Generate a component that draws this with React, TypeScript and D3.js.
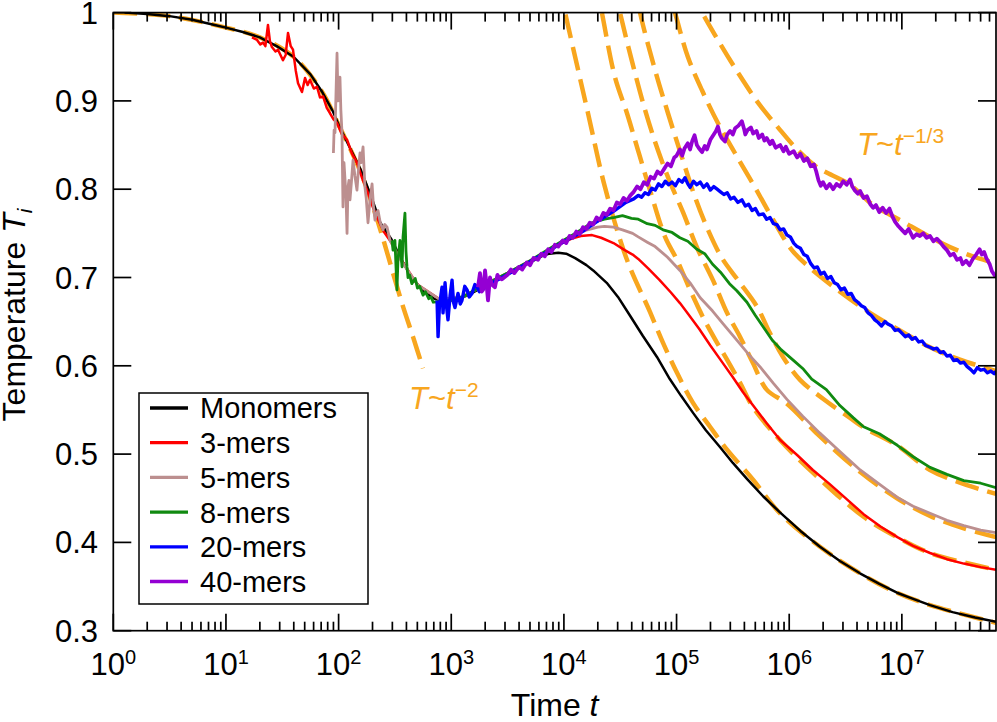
import * as d3 from "d3";

type Pt = [number, number]; // [log10 t, T]

// ---- data ----
const seriesNames = ["Monomers", "3-mers", "5-mers", "8-mers", "20-mers", "40-mers"];
const seriesColors = ["#000000", "#ff0000", "#bc8f8f", "#108a10", "#0000ff", "#9400d3"];
const seriesWidths = [2.5, 2.5, 2.8, 2.8, 3.4, 3.8];

const monomers: Pt[] = [
  [0.1, 1.0], [0.3, 0.9985], [0.5, 0.996], [0.7, 0.992], [0.9, 0.986], [1.0, 0.983], [1.15, 0.978],
  [1.3, 0.972], [1.45, 0.962], [1.6, 0.95], [1.75, 0.93], [1.85, 0.911], [1.95, 0.888], [2.0, 0.873],
  [2.1, 0.847], [2.2, 0.821], [2.3, 0.788], [2.37, 0.762], [2.47, 0.743], [2.55, 0.722], [2.65, 0.7],
  [2.75, 0.685], [2.85, 0.676], [2.95, 0.673], [3.05, 0.675], [3.15, 0.68], [3.25, 0.687], [3.35, 0.694],
  [3.45, 0.7], [3.55, 0.707], [3.7, 0.717], [3.8, 0.724], [3.87, 0.727], [3.95, 0.728], [4.02, 0.727],
  [4.1, 0.722], [4.2, 0.714], [4.26, 0.708], [4.38, 0.694], [4.48, 0.678], [4.586, 0.657], [4.7, 0.634],
  [4.826, 0.61], [4.94, 0.585], [5.04, 0.566], [5.145, 0.547], [5.26, 0.527], [5.385, 0.508], [5.5, 0.49],
  [5.625, 0.472], [5.77, 0.452], [5.918, 0.434], [6.1, 0.413], [6.273, 0.395], [6.45, 0.379], [6.628, 0.365],
  [6.8, 0.353], [6.957, 0.343], [7.1, 0.336], [7.25, 0.329], [7.45, 0.321], [7.65, 0.315], [7.836, 0.31],
];

const mers3: Pt[] = [
  [1.231, 0.972], [1.276, 0.969], [1.305, 0.964], [1.329, 0.966], [1.35, 0.962], [1.373, 0.986], [1.39, 0.968],
  [1.408, 0.961], [1.44, 0.956], [1.462, 0.958], [1.506, 0.946], [1.53, 0.952], [1.551, 0.977], [1.575, 0.962],
  [1.595, 0.958], [1.62, 0.934], [1.64, 0.92], [1.675, 0.91], [1.702, 0.926], [1.725, 0.918], [1.746, 0.924],
  [1.78, 0.914], [1.808, 0.916], [1.835, 0.904], [1.862, 0.905], [1.895, 0.892], [1.924, 0.886], [1.955, 0.879],
  [1.986, 0.875], [2.03, 0.862], [2.075, 0.856], [2.12, 0.84], [2.163, 0.83], [2.21, 0.812], [2.252, 0.799],
  [2.3, 0.781], [2.341, 0.768], [2.4, 0.752], [2.456, 0.742], [2.55, 0.721], [2.7, 0.692], [2.9, 0.675],
  [3.1, 0.678], [3.3, 0.692], [3.5, 0.705], [3.7, 0.719], [3.9, 0.733], [4.0, 0.74], [4.07, 0.744],
  [4.15, 0.747], [4.25, 0.748], [4.33, 0.745], [4.44, 0.739], [4.54, 0.731], [4.61, 0.726], [4.66, 0.721],
  [4.75, 0.71], [4.85, 0.697], [4.95, 0.683], [5.03, 0.671], [5.09, 0.661], [5.2, 0.642], [5.3, 0.623],
  [5.4, 0.605], [5.5, 0.587], [5.59, 0.57], [5.68, 0.555], [5.8, 0.535], [5.92, 0.516], [6.07, 0.499],
  [6.21, 0.482], [6.36, 0.466], [6.51, 0.449], [6.66, 0.432], [6.81, 0.418], [6.96, 0.406], [7.1, 0.396],
  [7.25, 0.388], [7.4, 0.381], [7.55, 0.376], [7.7, 0.372], [7.836, 0.369],
];

const mers5: Pt[] = [
  [1.954, 0.841], [1.96, 0.867], [1.968, 0.864], [1.986, 0.954], [1.995, 0.9], [2.004, 0.912], [2.012, 0.927],
  [2.02, 0.89], [2.03, 0.864], [2.039, 0.78], [2.048, 0.83], [2.057, 0.811], [2.066, 0.79], [2.075, 0.75],
  [2.083, 0.802], [2.092, 0.81], [2.101, 0.788], [2.115, 0.81], [2.128, 0.833], [2.145, 0.815], [2.163, 0.799],
  [2.175, 0.82], [2.19, 0.841], [2.2, 0.83], [2.217, 0.848], [2.234, 0.802], [2.245, 0.79], [2.261, 0.762],
  [2.28, 0.79], [2.297, 0.806], [2.31, 0.78], [2.323, 0.765], [2.335, 0.772], [2.35, 0.776], [2.37, 0.762],
  [2.394, 0.754], [2.41, 0.76], [2.43, 0.757], [2.456, 0.742], [2.55, 0.72], [2.7, 0.692], [2.9, 0.675],
  [3.1, 0.678], [3.3, 0.692], [3.5, 0.705], [3.7, 0.719], [3.9, 0.734], [4.05, 0.746], [4.21, 0.754],
  [4.3, 0.757], [4.36, 0.758], [4.44, 0.757], [4.52, 0.754], [4.61, 0.75], [4.66, 0.746], [4.74, 0.74],
  [4.81, 0.735], [4.92, 0.723], [5.03, 0.708], [5.12, 0.694], [5.21, 0.677], [5.32, 0.662], [5.41, 0.648],
  [5.535, 0.629], [5.64, 0.613], [5.74, 0.599], [5.86, 0.58], [5.98, 0.562], [6.12, 0.543], [6.27, 0.524],
  [6.45, 0.503], [6.63, 0.482], [6.8, 0.466], [6.96, 0.451], [7.1, 0.441], [7.25, 0.433], [7.4, 0.425],
  [7.55, 0.419], [7.7, 0.414], [7.836, 0.411],
];

const mers8: Pt[] = [
  [2.474, 0.742], [2.483, 0.731], [2.5, 0.742], [2.518, 0.686], [2.527, 0.72], [2.545, 0.742], [2.563, 0.712],
  [2.572, 0.746], [2.589, 0.773], [2.598, 0.73], [2.607, 0.712], [2.616, 0.7], [2.63, 0.703], [2.65, 0.693],
  [2.68, 0.699], [2.7, 0.688], [2.72, 0.69], [2.75, 0.68], [2.77, 0.684], [2.8, 0.676], [2.82, 0.678],
  [2.84, 0.672], [2.95, 0.673], [3.1, 0.678], [3.3, 0.692], [3.5, 0.705], [3.7, 0.719], [3.9, 0.735],
  [4.1, 0.75], [4.25, 0.762], [4.36, 0.766], [4.45, 0.768], [4.52, 0.77], [4.6, 0.767], [4.66, 0.766],
  [4.74, 0.761], [4.81, 0.759], [4.88, 0.754], [4.96, 0.751], [5.03, 0.745], [5.1, 0.741], [5.18, 0.732],
  [5.25, 0.727], [5.32, 0.715], [5.39, 0.706], [5.47, 0.693], [5.535, 0.685], [5.625, 0.672], [5.7, 0.657],
  [5.77, 0.644], [5.85, 0.629], [5.93, 0.618], [6.03, 0.607], [6.12, 0.597], [6.2, 0.585], [6.33, 0.573],
  [6.45, 0.555], [6.57, 0.541], [6.66, 0.531], [6.8, 0.523], [6.96, 0.51], [7.1, 0.497], [7.25, 0.485],
  [7.4, 0.477], [7.55, 0.47], [7.7, 0.467], [7.836, 0.462],
];

const mers20: Pt[] = [
  [2.874, 0.674], [2.883, 0.633], [2.895, 0.668], [2.918, 0.689], [2.927, 0.66], [2.945, 0.694], [2.96, 0.665],
  [2.971, 0.652], [2.99, 0.68], [3.007, 0.697], [3.02, 0.672], [3.033, 0.666], [3.06, 0.682], [3.08, 0.67],
  [3.095, 0.674], [3.12, 0.69], [3.14, 0.686], [3.16, 0.678], [3.184, 0.682], [3.21, 0.692], [3.229, 0.689],
  [3.25, 0.684], [3.273, 0.686], [3.35, 0.693], [3.45, 0.7], [3.55, 0.707], [3.7, 0.718], [3.85, 0.729],
  [3.99, 0.74], [4.14, 0.75], [4.29, 0.763], [4.44, 0.775], [4.55, 0.785], [4.62, 0.789], [4.66, 0.793],
  [4.69, 0.791], [4.72, 0.796], [4.75, 0.794], [4.78, 0.801], [4.81, 0.799], [4.84, 0.806], [4.87, 0.803],
  [4.9, 0.809], [4.93, 0.805], [4.96, 0.808], [4.99, 0.804], [5.02, 0.811], [5.05, 0.808], [5.075, 0.813],
  [5.1, 0.806], [5.12, 0.802], [5.15, 0.809], [5.18, 0.805], [5.21, 0.808], [5.24, 0.802], [5.27, 0.806],
  [5.3, 0.799], [5.33, 0.803], [5.36, 0.8], [5.39, 0.797], [5.42, 0.794], [5.45, 0.796], [5.48, 0.789],
  [5.51, 0.791], [5.545, 0.785], [5.58, 0.788], [5.61, 0.781], [5.64, 0.783], [5.67, 0.776], [5.7, 0.778],
  [5.73, 0.771], [5.77, 0.772], [5.8, 0.766], [5.83, 0.768], [5.86, 0.761], [5.89, 0.76], [5.92, 0.754],
  [5.95, 0.755], [5.98, 0.748], [6.01, 0.746], [6.04, 0.739], [6.07, 0.735], [6.1, 0.733], [6.13, 0.726],
  [6.16, 0.724], [6.19, 0.716], [6.22, 0.711], [6.25, 0.712], [6.28, 0.704], [6.31, 0.706], [6.34, 0.699],
  [6.37, 0.701], [6.4, 0.694], [6.43, 0.692], [6.46, 0.686], [6.49, 0.688], [6.52, 0.681], [6.55, 0.682],
  [6.58, 0.675], [6.61, 0.672], [6.64, 0.668], [6.67, 0.666], [6.7, 0.66], [6.73, 0.657], [6.76, 0.652],
  [6.79, 0.649], [6.82, 0.645], [6.85, 0.65], [6.88, 0.647], [6.91, 0.645], [6.94, 0.64], [6.97, 0.641],
  [7.0, 0.637], [7.03, 0.633], [7.06, 0.635], [7.09, 0.63], [7.12, 0.632], [7.15, 0.627], [7.18, 0.628],
  [7.21, 0.623], [7.25, 0.621], [7.28, 0.619], [7.31, 0.62], [7.34, 0.615], [7.37, 0.616], [7.4, 0.611],
  [7.43, 0.612], [7.46, 0.606], [7.49, 0.607], [7.52, 0.603], [7.55, 0.604], [7.58, 0.599], [7.61, 0.596],
  [7.64, 0.592], [7.67, 0.598], [7.7, 0.595], [7.73, 0.596], [7.76, 0.592], [7.79, 0.594], [7.82, 0.591],
  [7.836, 0.594],
];

const mers40: Pt[] = [
  [3.237, 0.689], [3.255, 0.705], [3.27, 0.684], [3.282, 0.686], [3.3, 0.708], [3.315, 0.69], [3.326, 0.674],
  [3.344, 0.7], [3.36, 0.692], [3.388, 0.689], [3.41, 0.703], [3.424, 0.7], [3.45, 0.698], [3.5, 0.703],
  [3.53, 0.709], [3.56, 0.705], [3.6, 0.712], [3.63, 0.709], [3.67, 0.717], [3.7, 0.714], [3.73, 0.722],
  [3.77, 0.72], [3.8, 0.727], [3.83, 0.724], [3.86, 0.732], [3.89, 0.729], [3.92, 0.737], [3.95, 0.735],
  [3.99, 0.742], [4.02, 0.739], [4.05, 0.747], [4.08, 0.745], [4.11, 0.752], [4.14, 0.749], [4.17, 0.757],
  [4.2, 0.755], [4.23, 0.762], [4.26, 0.76], [4.29, 0.768], [4.32, 0.765], [4.35, 0.773], [4.38, 0.771],
  [4.41, 0.778], [4.44, 0.776], [4.47, 0.785], [4.5, 0.783], [4.53, 0.79], [4.56, 0.787], [4.59, 0.793],
  [4.62, 0.797], [4.65, 0.803], [4.68, 0.8], [4.71, 0.808], [4.74, 0.805], [4.77, 0.814], [4.8, 0.812],
  [4.83, 0.82], [4.86, 0.817], [4.89, 0.823], [4.92, 0.829], [4.95, 0.826], [4.98, 0.836], [5.0, 0.838],
  [5.03, 0.845], [5.05, 0.838], [5.07, 0.846], [5.1, 0.852], [5.12, 0.845], [5.14, 0.855], [5.16, 0.861],
  [5.18, 0.85], [5.2, 0.846], [5.226, 0.842], [5.25, 0.849], [5.27, 0.845], [5.3, 0.856], [5.33, 0.862],
  [5.35, 0.866], [5.367, 0.871], [5.385, 0.862], [5.4, 0.858], [5.43, 0.854], [5.45, 0.862], [5.475, 0.866],
  [5.5, 0.862], [5.52, 0.869], [5.55, 0.872], [5.58, 0.877], [5.6, 0.868], [5.61, 0.862], [5.63, 0.867],
  [5.66, 0.87], [5.68, 0.863], [5.71, 0.866], [5.73, 0.858], [5.76, 0.862], [5.78, 0.855], [5.8, 0.858],
  [5.83, 0.851], [5.85, 0.855], [5.88, 0.847], [5.92, 0.85], [5.95, 0.843], [5.97, 0.848], [6.0, 0.84],
  [6.04, 0.843], [6.07, 0.836], [6.1, 0.84], [6.13, 0.832], [6.16, 0.835], [6.19, 0.826], [6.22, 0.828],
  [6.24, 0.82], [6.26, 0.81], [6.28, 0.804], [6.3, 0.808], [6.33, 0.801], [6.36, 0.806], [6.39, 0.8],
  [6.42, 0.806], [6.45, 0.803], [6.48, 0.809], [6.51, 0.805], [6.54, 0.811], [6.56, 0.803], [6.58, 0.799],
  [6.61, 0.795], [6.63, 0.798], [6.66, 0.79], [6.69, 0.792], [6.72, 0.783], [6.745, 0.779], [6.77, 0.782],
  [6.8, 0.774], [6.83, 0.779], [6.86, 0.773], [6.89, 0.778], [6.92, 0.768], [6.94, 0.763], [6.97, 0.758],
  [7.0, 0.754], [7.03, 0.75], [7.06, 0.755], [7.1, 0.745], [7.13, 0.749], [7.16, 0.747], [7.19, 0.75],
  [7.22, 0.745], [7.25, 0.747], [7.28, 0.741], [7.31, 0.744], [7.34, 0.74], [7.37, 0.735], [7.4, 0.731],
  [7.43, 0.725], [7.46, 0.727], [7.49, 0.72], [7.52, 0.722], [7.54, 0.715], [7.57, 0.719], [7.6, 0.714],
  [7.63, 0.721], [7.66, 0.726], [7.69, 0.732], [7.71, 0.726], [7.73, 0.729], [7.75, 0.722], [7.78, 0.715],
  [7.8, 0.707], [7.82, 0.703], [7.836, 0.701],
];

// orange dashed fits
const fitEarly: Pt[] = [
  [0, 1.0], [0.5, 0.996], [1.0, 0.983], [1.3, 0.972], [1.6, 0.95], [1.85, 0.911], [2.0, 0.873], [2.2, 0.818],
  [2.3, 0.782], [2.385, 0.748], [2.483, 0.705], [2.572, 0.667], [2.66, 0.633], [2.749, 0.597],
];
const fitMono: Pt[] = [
  [3.95, 1.034], [4.01, 1.0], [4.214, 0.886], [4.365, 0.802], [4.56, 0.72], [4.764, 0.661], [4.88, 0.626],
  [5.004, 0.592], [5.146, 0.558], [5.297, 0.531], [5.448, 0.505], [5.679, 0.471], [5.918, 0.433],
  [6.273, 0.395], [6.628, 0.365], [6.957, 0.343], [7.25, 0.329], [7.836, 0.309],
];
const fit3: Pt[] = [
  [4.28, 1.036], [4.337, 1.0], [4.453, 0.927], [4.56, 0.886], [4.658, 0.844], [4.764, 0.799], [4.898, 0.746],
  [5.004, 0.72], [5.12, 0.686], [5.235, 0.655], [5.36, 0.626], [5.448, 0.607], [5.563, 0.581], [5.679, 0.553],
  [5.918, 0.516], [6.21, 0.479], [6.66, 0.429], [6.957, 0.406], [7.25, 0.388], [7.836, 0.369],
];
const fit5: Pt[] = [
  [4.44, 1.035], [4.498, 1.0], [4.604, 0.945], [4.72, 0.89], [4.835, 0.844], [4.942, 0.808], [5.057, 0.774],
  [5.181, 0.734], [5.323, 0.697], [5.448, 0.66], [5.563, 0.633], [5.679, 0.603], [5.8, 0.573], [5.98, 0.557],
  [6.273, 0.52], [6.628, 0.48], [6.957, 0.45], [7.25, 0.43], [7.55, 0.416], [7.836, 0.406],
];
const fit8: Pt[] = [
  [4.62, 1.04], [4.676, 1.0], [4.809, 0.935], [4.924, 0.886], [5.048, 0.836], [5.164, 0.791], [5.279, 0.754],
  [5.403, 0.722], [5.545, 0.697], [5.714, 0.667], [5.829, 0.637], [5.945, 0.61], [6.096, 0.584],
  [6.318, 0.561], [6.54, 0.541], [6.663, 0.53], [6.956, 0.51], [7.25, 0.482], [7.552, 0.466], [7.836, 0.455],
];
const fit20: Pt[] = [
  [4.9, 1.038], [4.986, 1.0], [5.1, 0.95], [5.226, 0.912], [5.367, 0.875], [5.518, 0.841], [5.696, 0.802],
  [5.873, 0.762], [6.024, 0.731], [6.184, 0.711], [6.45, 0.684], [6.717, 0.66], [6.983, 0.64], [7.25, 0.621],
  [7.516, 0.607], [7.836, 0.594],
];
const fit40: Pt[] = [
  [5.1, 1.028], [5.226, 1.0], [5.367, 0.969], [5.545, 0.932], [5.723, 0.898], [5.9, 0.87], [6.078, 0.844],
  [6.246, 0.825], [6.54, 0.805], [6.745, 0.782], [6.983, 0.765], [7.338, 0.74], [7.605, 0.725], [7.836, 0.716],
];

const seriesData = [monomers, mers3, mers5, mers8, mers20, mers40];
const fits = [fitEarly, fitMono, fit3, fit5, fit8, fit20, fit40];
const yTicks = [0.3, 0.4, 0.5, 0.6, 0.7, 0.8, 0.9, 1];
const yTickLabels = ["0.3", "0.4", "0.5", "0.6", "0.7", "0.8", "0.9", "1"];

const W = 997;
const H = 722;
const FONT = "'Liberation Sans', Arial, Helvetica, sans-serif";
const ORANGE = "#f8a61e";

export default function App() {
  const left = 113.3;
  const right = 996;
  const top = 12.6;
  const bottom = 630.7;

  const x = d3.scaleLog().domain([1, 6.85e7]).range([left, right]);
  const y = d3.scaleLinear().domain([0.3, 1]).range([bottom, top]);

  const line = d3
    .line<Pt>()
    .x((d) => x(Math.pow(10, d[0])))
    .y((d) => y(d[1]));
  const smooth = d3
    .line<Pt>()
    .x((d) => x(Math.pow(10, d[0])))
    .y((d) => y(d[1]))
    .curve(d3.curveCatmullRom);

  const xTicks = x.ticks();
  const isMajor = (v: number) => Math.abs(Math.log10(v) - Math.round(Math.log10(v))) < 1e-9;
  const majors = xTicks.filter(isMajor);

  const legendRow = (i: number) => 408 + i * 34.7;

  return (
    <div>
      <style>{`body{margin:0}`}</style>
      <svg width={W} height={H} style={{ display: "block", background: "#fff" }} fontFamily={FONT}>
        <defs>
          <clipPath id="plot">
            <rect x={left} y={top} width={right - left} height={bottom - top} />
          </clipPath>
        </defs>

        <g clipPath="url(#plot)" fill="none" strokeLinejoin="round">
          {fits.map((f, i) => (
            <path key={"f" + i} d={smooth(f) ?? ""} stroke={ORANGE} strokeWidth={4.5} strokeDasharray="24 9" />
          ))}
          {seriesData.map((s, i) => (
            <path key={"s" + i} d={line(s) ?? ""} stroke={seriesColors[i]} strokeWidth={seriesWidths[i]} />
          ))}
        </g>

        {/* ticks */}
        <g stroke="#000" strokeWidth={1.7}>
          {xTicks.map((v, i) => {
            const len = isMajor(v) ? 17 : 9;
            const px = x(v);
            return (
              <g key={"xt" + i}>
                <line x1={px} x2={px} y1={bottom} y2={bottom - len} />
                <line x1={px} x2={px} y1={top} y2={top + len} />
              </g>
            );
          })}
          {yTicks.map((v, i) => (
            <g key={"yt" + i}>
              <line x1={left} x2={left + 18} y1={y(v)} y2={y(v)} />
              <line x1={right} x2={right - 18} y1={y(v)} y2={y(v)} />
            </g>
          ))}
        </g>

        <rect x={left} y={top} width={right - left} height={bottom - top} fill="none" stroke="#000" strokeWidth={1.7} />

        {/* tick labels */}
        <g fontSize={31} fill="#000">
          {yTicks.map((v, i) => (
            <text key={"yl" + i} x={98} y={y(v) + 11} textAnchor="end">
              {yTickLabels[i]}
            </text>
          ))}
          {majors.map((v, i) => (
            <text key={"xl" + i} x={x(v)} y={675} textAnchor="middle">
              10
              <tspan fontSize={20} dy={-11}>
                {Math.round(Math.log10(v))}
              </tspan>
            </text>
          ))}
        </g>

        {/* axis titles */}
        <text x={(left + right) / 2} y={716} textAnchor="middle" fontSize={32}>
          Time <tspan fontStyle="italic">t</tspan>
        </text>
        <text transform={`translate(25,315) rotate(-90)`} textAnchor="middle" fontSize={32}>
          Temperature <tspan fontStyle="italic">T</tspan>
          <tspan fontStyle="italic" fontSize={21} dy={7}>
            i
          </tspan>
        </text>

        {/* annotations */}
        <text x={409} y={409} fontSize={31} fill={ORANGE}>
          <tspan fontStyle="italic">T</tspan>~<tspan fontStyle="italic">t</tspan>
          <tspan fontSize={21} dy={-12}>
            −2
          </tspan>
        </text>
        <text x={857} y={155} fontSize={31} fill={ORANGE}>
          <tspan fontStyle="italic">T</tspan>~<tspan fontStyle="italic">t</tspan>
          <tspan fontSize={21} dy={-12}>
            −1/3
          </tspan>
        </text>

        {/* legend */}
        <rect x={139} y={393} width={229} height={211} fill="#fff" stroke="#000" strokeWidth={1.5} />
        {seriesNames.map((name, i) => (
          <g key={"lg" + i}>
            <line x1={150} x2={188} y1={legendRow(i)} y2={legendRow(i)} stroke={seriesColors[i]} strokeWidth={3.3} />
            <text x={200} y={legendRow(i) + 10.4} fontSize={29}>
              {name}
            </text>
          </g>
        ))}
      </svg>
    </div>
  );
}
